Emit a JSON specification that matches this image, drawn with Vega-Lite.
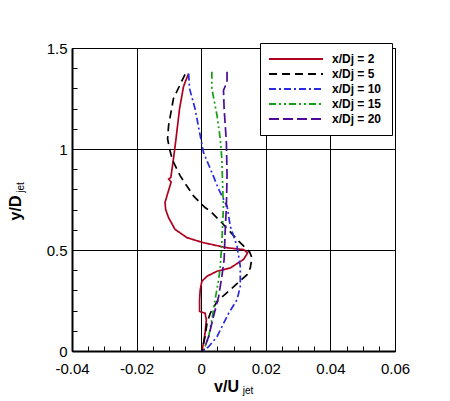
{
  "$schema": "https://vega.github.io/schema/vega-lite/v6.json",
  "width": 323,
  "height": 303,
  "autosize": {"type": "none"},
  "padding": {"left": 72, "top": 48, "right": 55, "bottom": 50},
  "background": "white",
  "config": {
    "view": {"stroke": "black", "strokeWidth": 1},
    "font": "Liberation Sans",
    "axis": {
      "labelFont": "Liberation Sans",
      "labelFontSize": 15,
      "labelColor": "black",
      "labelFlush": false,
      "labelOverlap": false,
      "titleFont": "Liberation Sans",
      "titleColor": "black",
      "tickColor": "black",
      "domainColor": "black",
      "gridColor": "black",
      "gridOpacity": 1,
      "gridWidth": 1
    },
    "legend": {
      "orient": "none",
      "legendX": 188,
      "legendY": -5,
      "strokeColor": "black",
      "fillColor": "white",
      "padding": 10,
      "symbolType": "M-1.4,0H9.4",
      "symbolSize": 100,
      "symbolStrokeWidth": 2,
      "labelFont": "Liberation Sans",
      "labelFontSize": 12,
      "labelFontWeight": "bold",
      "labelColor": "black",
      "labelOffset": 50,
      "rowPadding": 3
    }
  },
  "data": {
    "values": [
      {"s": "x/Dj = 2", "i": 1, "x": -0.0039, "y": 1.373},
      {"s": "x/Dj = 2", "i": 2, "x": -0.005, "y": 1.33},
      {"s": "x/Dj = 2", "i": 3, "x": -0.0055, "y": 1.307},
      {"s": "x/Dj = 2", "i": 4, "x": -0.0067, "y": 1.199},
      {"s": "x/Dj = 2", "i": 5, "x": -0.0078, "y": 1.05},
      {"s": "x/Dj = 2", "i": 6, "x": -0.0086, "y": 0.95},
      {"s": "x/Dj = 2", "i": 7, "x": -0.0094, "y": 0.859},
      {"s": "x/Dj = 2", "i": 8, "x": -0.0101, "y": 0.851},
      {"s": "x/Dj = 2", "i": 9, "x": -0.0093, "y": 0.837},
      {"s": "x/Dj = 2", "i": 10, "x": -0.0106, "y": 0.768},
      {"s": "x/Dj = 2", "i": 11, "x": -0.0112, "y": 0.735},
      {"s": "x/Dj = 2", "i": 12, "x": -0.011, "y": 0.7},
      {"s": "x/Dj = 2", "i": 13, "x": -0.0101, "y": 0.66},
      {"s": "x/Dj = 2", "i": 14, "x": -0.0081, "y": 0.602},
      {"s": "x/Dj = 2", "i": 15, "x": -0.0044, "y": 0.561},
      {"s": "x/Dj = 2", "i": 16, "x": 0.0007, "y": 0.536},
      {"s": "x/Dj = 2", "i": 17, "x": 0.008, "y": 0.511},
      {"s": "x/Dj = 2", "i": 18, "x": 0.0131, "y": 0.502},
      {"s": "x/Dj = 2", "i": 19, "x": 0.0144, "y": 0.486},
      {"s": "x/Dj = 2", "i": 20, "x": 0.0131, "y": 0.453},
      {"s": "x/Dj = 2", "i": 21, "x": 0.009, "y": 0.411},
      {"s": "x/Dj = 2", "i": 22, "x": 0.0049, "y": 0.395},
      {"s": "x/Dj = 2", "i": 23, "x": 0.0018, "y": 0.37},
      {"s": "x/Dj = 2", "i": 24, "x": 0.0002, "y": 0.345},
      {"s": "x/Dj = 2", "i": 25, "x": -0.0003, "y": 0.303},
      {"s": "x/Dj = 2", "i": 26, "x": -0.0005, "y": 0.254},
      {"s": "x/Dj = 2", "i": 27, "x": -0.0005, "y": 0.196},
      {"s": "x/Dj = 2", "i": 28, "x": 0.0012, "y": 0.187},
      {"s": "x/Dj = 2", "i": 29, "x": 0.0016, "y": 0.154},
      {"s": "x/Dj = 2", "i": 30, "x": 0.0012, "y": 0.088},
      {"s": "x/Dj = 2", "i": 31, "x": 0.0007, "y": 0.038},
      {"s": "x/Dj = 2", "i": 32, "x": 0.0002, "y": 0.0},
      {"s": "x/Dj = 5", "i": 1, "x": -0.005, "y": 1.37},
      {"s": "x/Dj = 5", "i": 2, "x": -0.0086, "y": 1.249},
      {"s": "x/Dj = 5", "i": 3, "x": -0.0101, "y": 1.116},
      {"s": "x/Dj = 5", "i": 4, "x": -0.0104, "y": 1.05},
      {"s": "x/Dj = 5", "i": 5, "x": -0.0098, "y": 1.0},
      {"s": "x/Dj = 5", "i": 6, "x": -0.0088, "y": 0.942},
      {"s": "x/Dj = 5", "i": 7, "x": -0.0065, "y": 0.867},
      {"s": "x/Dj = 5", "i": 8, "x": -0.0024, "y": 0.768},
      {"s": "x/Dj = 5", "i": 9, "x": 0.0012, "y": 0.71},
      {"s": "x/Dj = 5", "i": 10, "x": 0.0028, "y": 0.693},
      {"s": "x/Dj = 5", "i": 11, "x": 0.0064, "y": 0.635},
      {"s": "x/Dj = 5", "i": 12, "x": 0.0116, "y": 0.544},
      {"s": "x/Dj = 5", "i": 13, "x": 0.015, "y": 0.49},
      {"s": "x/Dj = 5", "i": 14, "x": 0.0157, "y": 0.461},
      {"s": "x/Dj = 5", "i": 15, "x": 0.0152, "y": 0.411},
      {"s": "x/Dj = 5", "i": 16, "x": 0.0142, "y": 0.378},
      {"s": "x/Dj = 5", "i": 17, "x": 0.009, "y": 0.303},
      {"s": "x/Dj = 5", "i": 18, "x": 0.0049, "y": 0.245},
      {"s": "x/Dj = 5", "i": 19, "x": 0.0028, "y": 0.187},
      {"s": "x/Dj = 5", "i": 20, "x": 0.0018, "y": 0.138},
      {"s": "x/Dj = 5", "i": 21, "x": 0.0012, "y": 0.071},
      {"s": "x/Dj = 5", "i": 22, "x": 0.0002, "y": 0.0},
      {"s": "x/Dj = 10", "i": 1, "x": -0.0039, "y": 1.373},
      {"s": "x/Dj = 10", "i": 2, "x": -0.0036, "y": 1.299},
      {"s": "x/Dj = 10", "i": 3, "x": -0.0019, "y": 1.199},
      {"s": "x/Dj = 10", "i": 4, "x": -0.0003, "y": 1.066},
      {"s": "x/Dj = 10", "i": 5, "x": 0.0007, "y": 0.983},
      {"s": "x/Dj = 10", "i": 6, "x": 0.0033, "y": 0.884},
      {"s": "x/Dj = 10", "i": 7, "x": 0.0054, "y": 0.801},
      {"s": "x/Dj = 10", "i": 8, "x": 0.0074, "y": 0.735},
      {"s": "x/Dj = 10", "i": 9, "x": 0.008, "y": 0.718},
      {"s": "x/Dj = 10", "i": 10, "x": 0.009, "y": 0.618},
      {"s": "x/Dj = 10", "i": 11, "x": 0.0111, "y": 0.519},
      {"s": "x/Dj = 10", "i": 12, "x": 0.0121, "y": 0.419},
      {"s": "x/Dj = 10", "i": 13, "x": 0.0121, "y": 0.32},
      {"s": "x/Dj = 10", "i": 14, "x": 0.0111, "y": 0.254},
      {"s": "x/Dj = 10", "i": 15, "x": 0.0085, "y": 0.187},
      {"s": "x/Dj = 10", "i": 16, "x": 0.0049, "y": 0.071},
      {"s": "x/Dj = 10", "i": 17, "x": 0.0023, "y": 0.021},
      {"s": "x/Dj = 10", "i": 18, "x": 0.0007, "y": 0.0},
      {"s": "x/Dj = 15", "i": 1, "x": 0.0033, "y": 1.382},
      {"s": "x/Dj = 15", "i": 2, "x": 0.0033, "y": 1.299},
      {"s": "x/Dj = 15", "i": 3, "x": 0.0049, "y": 1.166},
      {"s": "x/Dj = 15", "i": 4, "x": 0.0059, "y": 1.05},
      {"s": "x/Dj = 15", "i": 5, "x": 0.0064, "y": 0.95},
      {"s": "x/Dj = 15", "i": 6, "x": 0.0067, "y": 0.785},
      {"s": "x/Dj = 15", "i": 7, "x": 0.0069, "y": 0.718},
      {"s": "x/Dj = 15", "i": 8, "x": 0.0067, "y": 0.652},
      {"s": "x/Dj = 15", "i": 9, "x": 0.0064, "y": 0.536},
      {"s": "x/Dj = 15", "i": 10, "x": 0.0059, "y": 0.419},
      {"s": "x/Dj = 15", "i": 11, "x": 0.0054, "y": 0.353},
      {"s": "x/Dj = 15", "i": 12, "x": 0.0043, "y": 0.254},
      {"s": "x/Dj = 15", "i": 13, "x": 0.0033, "y": 0.154},
      {"s": "x/Dj = 15", "i": 14, "x": 0.0023, "y": 0.071},
      {"s": "x/Dj = 15", "i": 15, "x": 0.0007, "y": 0.0},
      {"s": "x/Dj = 20", "i": 1, "x": 0.008, "y": 1.382},
      {"s": "x/Dj = 20", "i": 2, "x": 0.008, "y": 1.332},
      {"s": "x/Dj = 20", "i": 3, "x": 0.0069, "y": 1.29},
      {"s": "x/Dj = 20", "i": 4, "x": 0.0071, "y": 1.199},
      {"s": "x/Dj = 20", "i": 5, "x": 0.0078, "y": 1.033},
      {"s": "x/Dj = 20", "i": 6, "x": 0.008, "y": 0.867},
      {"s": "x/Dj = 20", "i": 7, "x": 0.0078, "y": 0.718},
      {"s": "x/Dj = 20", "i": 8, "x": 0.0074, "y": 0.585},
      {"s": "x/Dj = 20", "i": 9, "x": 0.0071, "y": 0.453},
      {"s": "x/Dj = 20", "i": 10, "x": 0.0064, "y": 0.37},
      {"s": "x/Dj = 20", "i": 11, "x": 0.0054, "y": 0.27},
      {"s": "x/Dj = 20", "i": 12, "x": 0.0038, "y": 0.171},
      {"s": "x/Dj = 20", "i": 13, "x": 0.0023, "y": 0.071},
      {"s": "x/Dj = 20", "i": 14, "x": 0.0007, "y": 0.0}
    ]
  },
  "layer": [
    {
      "mark": {"type": "point", "opacity": 0},
      "encoding": {
        "x": {
          "field": "x", "type": "quantitative",
          "scale": {"domain": [-0.04, 0.06], "nice": false, "zero": false},
          "axis": {
            "orient": "bottom",
            "values": [-0.035, -0.03, -0.025, -0.015, -0.01, -0.005, 0.005, 0.01, 0.015, 0.025, 0.03, 0.035, 0.045, 0.05, 0.055],
            "ticks": true, "tickSize": -5, "tickWidth": 1,
            "labels": false, "domain": false, "grid": false,
            "title": "jet", "titleFontSize": 10, "titleFontWeight": "normal",
            "titleX": 175.5, "titleY": 42, "titleAlign": "center", "titleBaseline": "alphabetic"
          }
        },
        "y": {
          "field": "y", "type": "quantitative",
          "scale": {"domain": [0, 1.5], "nice": false, "zero": false},
          "axis": {
            "orient": "left",
            "values": [0.1, 0.2, 0.3, 0.4, 0.6, 0.7, 0.8, 0.9, 1.1, 1.2, 1.3, 1.4],
            "ticks": true, "tickSize": -5, "tickWidth": 1,
            "labels": false, "domain": false, "grid": false,
            "title": "jet", "titleFontSize": 10, "titleFontWeight": "normal",
            "titleAngle": 270, "titleX": -49, "titleY": 139, "titleAlign": "center", "titleBaseline": "alphabetic"
          }
        }
      }
    },
    {
      "mark": {"type": "line", "strokeWidth": 1.7},
      "encoding": {
        "x": {
          "field": "x", "type": "quantitative",
          "scale": {"domain": [-0.04, 0.06], "nice": false, "zero": false},
          "axis": {
            "orient": "bottom",
            "values": [-0.04, -0.02, 0, 0.02, 0.04, 0.06],
            "labelExpr": "toString(datum.value)",
            "ticks": false, "labelPadding": 10,
            "domain": true, "domainWidth": 2, "grid": true,
            "title": "v/U", "titleFontSize": 16, "titleFontWeight": "bold",
            "titleX": 154, "titleY": 40, "titleAlign": "center", "titleBaseline": "alphabetic"
          }
        },
        "y": {
          "field": "y", "type": "quantitative",
          "scale": {"domain": [0, 1.5], "nice": false, "zero": false},
          "axis": {
            "orient": "left",
            "values": [0, 0.5, 1, 1.5],
            "labelExpr": "toString(datum.value)",
            "ticks": false, "labelPadding": 5,
            "domain": true, "domainWidth": 2, "grid": true,
            "title": "y/D", "titleFontSize": 16, "titleFontWeight": "bold",
            "titleAngle": 270, "titleX": -52, "titleY": 159.5, "titleAlign": "center", "titleBaseline": "alphabetic"
          }
        },
        "color": {
          "field": "s", "type": "nominal",
          "scale": {
            "domain": ["x/Dj = 2", "x/Dj = 5", "x/Dj = 10", "x/Dj = 15", "x/Dj = 20"],
            "range": ["#B00020", "#000000", "#2a2ae0", "#12a012", "#4b0b96"]
          },
          "legend": {"title": null}
        },
        "strokeDash": {
          "field": "s", "type": "nominal",
          "scale": {
            "domain": ["x/Dj = 2", "x/Dj = 5", "x/Dj = 10", "x/Dj = 15", "x/Dj = 20"],
            "range": [[1, 0], [8, 5], [7, 3, 2, 3], [7, 3, 2, 3, 2, 3], [10, 4]]
          },
          "legend": {"title": null}
        },
        "order": {"field": "i", "type": "quantitative"}
      }
    }
  ],
  "resolve": {
    "scale": {"x": "independent", "y": "independent"},
    "axis": {"x": "independent", "y": "independent"}
  }
}
